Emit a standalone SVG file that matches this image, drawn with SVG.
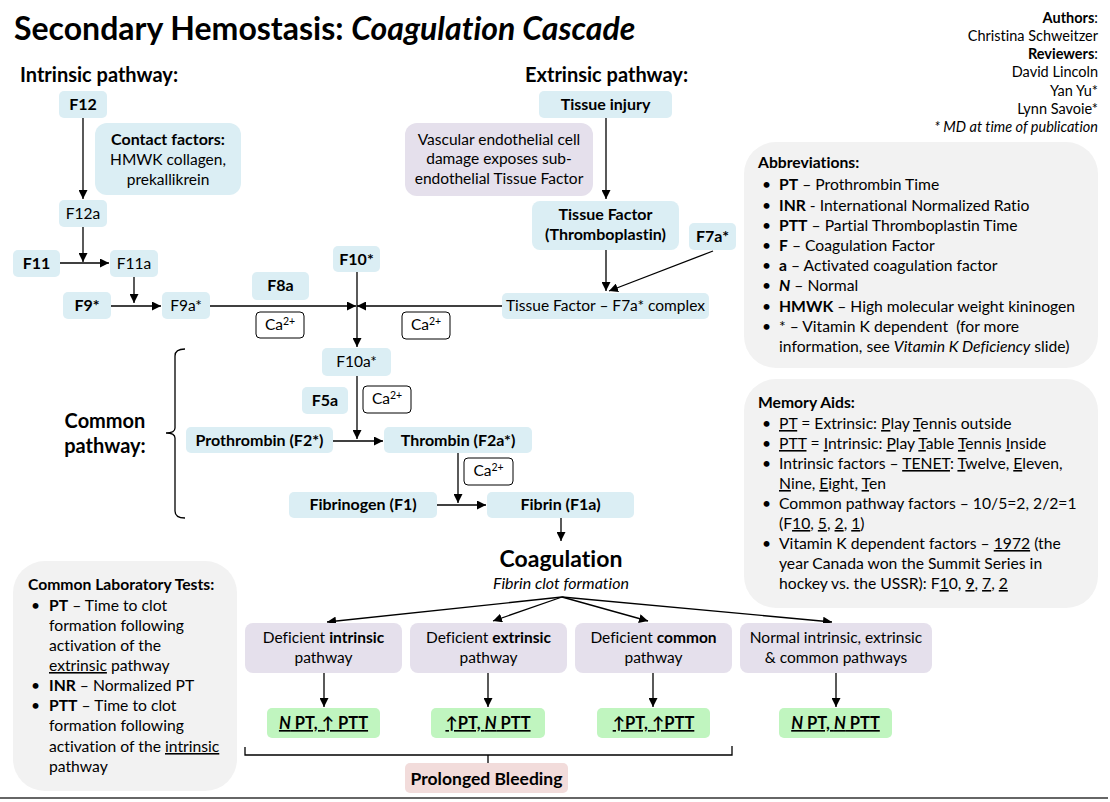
<svg xmlns="http://www.w3.org/2000/svg" width="1110" height="802" viewBox="0 0 1110 802">
<defs>
<marker id="ah" viewBox="0 0 10 10" refX="10" refY="5" markerWidth="9" markerHeight="9" markerUnits="userSpaceOnUse" orient="auto">
<path d="M0,0 L10,5 L0,10 z" fill="#000"/>
</marker>
<style>
text{font-family:Lato,"Liberation Sans",sans-serif;font-size:15.5px;fill:#000;font-variant-ligatures:none}
.b{font-weight:bold}
.nb{font-weight:bold;font-size:16px}
.i{font-style:italic}
.u{text-decoration:underline}
.c{text-anchor:middle}
.r{text-anchor:end}
.au{font-size:14.5px}
.p{font-size:15.7px}
.blue{fill:#dbeef4}
.lav{fill:#e5e0ec}
.grn{fill:#c0f5bf}
.pink{fill:#f2dcdb}
.grey{fill:#f2f2f2}
.ca{fill:#fff;stroke:#000;stroke-width:1}
.ln{stroke:#000;stroke-width:1.3;fill:none}
.ar{stroke:#000;stroke-width:1.3;fill:none;marker-end:url(#ah)}
.h{font-size:20px;font-weight:bold}
.sup{font-size:10.5px}
.res{font-size:16.5px;font-weight:bold;text-decoration:underline}
</style>
</defs>
<rect width="1110" height="802" fill="#fff"/>

<!-- Title and authors -->
<g id="title">
<text x="14" y="40" class="b" style="font-size:32px">Secondary Hemostasis: <tspan class="i">Coagulation Cascade</tspan></text>
</g>
<g id="authors">
<text x="1098" y="23" class="r au"><tspan class="b">Authors</tspan>:</text>
<text x="1098" y="41" class="r au">Christina Schweitzer</text>
<text x="1098" y="59" class="r au"><tspan class="b">Reviewers</tspan>:</text>
<text x="1098" y="77" class="r au">David Lincoln</text>
<text x="1098" y="96" class="r au">Yan Yu*</text>
<text x="1098" y="114" class="r au">Lynn Savoie*</text>
<text x="1098" y="132" class="r i au">* MD at time of publication</text>
</g>

<g id="label-intrinsic"><text x="20" y="82" class="h">Intrinsic pathway:</text></g>
<g id="label-extrinsic"><text x="525" y="82" class="h">Extrinsic pathway:</text></g>
<g id="label-common"><text x="105" y="428" class="h c">Common</text><text x="105" y="453" class="h c">pathway:</text></g>

<!-- Connectors -->
<g id="connectors">
<path class="ar" d="M83,118 V199"/>
<path class="ar" d="M83,227 V262"/>
<path class="ar" d="M60,263 H109"/>
<path class="ar" d="M134,277 V303"/>
<path class="ar" d="M111,306 H161"/>
<path class="ar" d="M210,306 H356"/>
<path class="ar" d="M502,306 H357"/>
<path class="ar" d="M357,272 V347"/>
<path class="ar" d="M606,118 V199"/>
<path class="ar" d="M606,250 V291"/>
<path class="ar" d="M713,251 L609,291"/>
<path class="ar" d="M357,376 V439"/>
<path class="ar" d="M333,441 H383"/>
<path class="ar" d="M458,453 V503"/>
<path class="ar" d="M437,505 H486"/>
<path class="ar" d="M561,518 V541"/>
<path class="ar" d="M562,597 L327,622"/>
<path class="ar" d="M562,597 L493,621"/>
<path class="ar" d="M562,597 L648,621"/>
<path class="ar" d="M562,597 L832,622"/>
<path class="ar" d="M324,673 V707"/>
<path class="ar" d="M488,673 V707"/>
<path class="ar" d="M653,673 V707"/>
<path class="ar" d="M836,673 V707"/>
<path class="ln" d="M185,349 Q175,349 175,356 V428 Q175,433 166,433 Q175,433 175,438 V511 Q175,518 185,518"/>
<path class="ln" d="M245,747 V755 H732 V746 M488,755 V763"/>
</g>

<!-- Intrinsic nodes -->
<g id="F12"><rect class="blue" x="59" y="91" width="48" height="27" rx="5"/><text x="83" y="110" class="nb c">F12</text></g>
<g id="contact"><rect class="blue" x="95" y="123" width="146" height="72" rx="12"/>
<text x="168" y="145" class="nb c">Contact factors:</text>
<text x="168" y="165" class="c">HMWK collagen,</text>
<text x="168" y="185" class="c">prekallikrein</text></g>
<g id="F12a"><rect class="blue" x="59" y="200" width="48" height="27" rx="5"/><text x="83" y="219" class="c">F12a</text></g>
<g id="F11"><rect class="blue" x="13" y="250" width="47" height="27" rx="5"/><text x="36.5" y="269" class="nb c">F11</text></g>
<g id="F11a"><rect class="blue" x="110" y="250" width="48" height="27" rx="5"/><text x="134" y="269" class="c">F11a</text></g>
<g id="F9"><rect class="blue" x="63" y="292" width="48" height="27" rx="5"/><text x="87" y="311" class="nb c">F9*</text></g>
<g id="F9a"><rect class="blue" x="162" y="292" width="48" height="27" rx="5"/><text x="186" y="311" class="c">F9a*</text></g>
<g id="F8a"><rect class="blue" x="252" y="272" width="57" height="28" rx="5"/><text x="280.5" y="291" class="nb c">F8a</text></g>
<g id="ca1"><rect class="ca" x="256" y="312" width="48" height="26" rx="4"/><text x="280" y="330" class="c">Ca<tspan class="sup" dy="-5">2+</tspan></text></g>
<g id="F10"><rect class="blue" x="333" y="246" width="47" height="26" rx="5"/><text x="356.5" y="265" class="nb c">F10*</text></g>
<g id="ca2"><rect class="ca" x="402" y="312" width="48" height="27" rx="4"/><text x="426" y="330" class="c">Ca<tspan class="sup" dy="-5">2+</tspan></text></g>

<!-- Extrinsic nodes -->
<g id="tissue-injury"><rect class="blue" x="539" y="91" width="133" height="27" rx="5"/><text x="605.5" y="110" class="nb c">Tissue injury</text></g>
<g id="vascular"><rect class="lav" x="405" y="123" width="188" height="73" rx="12"/>
<text x="499" y="145" class="c">Vascular endothelial cell</text>
<text x="499" y="164" class="c">damage exposes sub-</text>
<text x="499" y="184" class="c">endothelial Tissue Factor</text></g>
<g id="tissue-factor"><rect class="blue" x="532" y="201" width="147" height="49" rx="8"/>
<text x="605.5" y="220" class="nb c">Tissue Factor</text>
<text x="605.5" y="240" class="nb c">(Thromboplastin)</text></g>
<g id="F7a"><rect class="blue" x="689" y="223" width="47" height="27" rx="5"/><text x="712.5" y="242" class="nb c">F7a*</text></g>
<g id="tf-complex"><rect class="blue" x="502" y="293" width="207" height="26" rx="5"/><text x="605.5" y="311" class="c">Tissue Factor – F7a* complex</text></g>

<!-- Common pathway nodes -->
<g id="F10a"><rect class="blue" x="322" y="348" width="69" height="28" rx="5"/><text x="356.5" y="367" class="c">F10a*</text></g>
<g id="F5a"><rect class="blue" x="302" y="387" width="46" height="27" rx="5"/><text x="325" y="406" class="nb c">F5a</text></g>
<g id="ca3"><rect class="ca" x="363" y="386" width="48" height="27" rx="4"/><text x="387" y="404" class="c">Ca<tspan class="sup" dy="-5">2+</tspan></text></g>
<g id="prothrombin"><rect class="blue" x="186" y="427" width="147" height="26" rx="5"/><text x="259.5" y="446" class="nb c">Prothrombin (F2*)</text></g>
<g id="thrombin"><rect class="blue" x="384" y="427" width="148" height="26" rx="5"/><text x="458" y="446" class="nb c">Thrombin (F2a*)</text></g>
<g id="ca4"><rect class="ca" x="464" y="458" width="49" height="27" rx="4"/><text x="488.5" y="476" class="c">Ca<tspan class="sup" dy="-5">2+</tspan></text></g>
<g id="fibrinogen"><rect class="blue" x="289" y="492" width="148" height="26" rx="5"/><text x="363" y="510" class="nb c">Fibrinogen (F1)</text></g>
<g id="fibrin"><rect class="blue" x="487" y="492" width="147" height="26" rx="5"/><text x="560.5" y="510" class="nb c">Fibrin (F1a)</text></g>

<g id="coagulation">
<text x="561" y="567" class="c b" style="font-size:23px">Coagulation</text>
<text x="561" y="589" class="c i" style="font-size:16px">Fibrin clot formation</text>
</g>

<!-- Outcome boxes -->
<g id="def-intrinsic"><rect class="lav" x="245" y="623" width="157" height="50" rx="8"/>
<text x="323.5" y="643" class="c">Deficient <tspan class="b">intrinsic</tspan></text>
<text x="323.5" y="663" class="c">pathway</text></g>
<g id="def-extrinsic"><rect class="lav" x="410" y="623" width="157" height="50" rx="8"/>
<text x="488.5" y="643" class="c">Deficient <tspan class="b">extrinsic</tspan></text>
<text x="488.5" y="663" class="c">pathway</text></g>
<g id="def-common"><rect class="lav" x="575" y="623" width="157" height="50" rx="8"/>
<text x="653.5" y="643" class="c">Deficient <tspan class="b">common</tspan></text>
<text x="653.5" y="663" class="c">pathway</text></g>
<g id="normal"><rect class="lav" x="740" y="623" width="192" height="50" rx="8"/>
<text x="836" y="643" class="c">Normal intrinsic, extrinsic</text>
<text x="836" y="663" class="c">&amp; common pathways</text></g>

<g id="res-intrinsic"><rect class="grn" x="267" y="708" width="113" height="30" rx="5"/>
<text x="323.5" y="729" class="c res"><tspan class="i">N</tspan> PT, ↑ PTT</text></g>
<g id="res-extrinsic"><rect class="grn" x="431" y="708" width="114" height="30" rx="5"/>
<text x="488" y="729" class="c res">↑PT, <tspan class="i">N</tspan> PTT</text></g>
<g id="res-common"><rect class="grn" x="597" y="708" width="113" height="30" rx="5"/>
<text x="653.5" y="729" class="c res">↑PT, ↑PTT</text></g>
<g id="res-normal"><rect class="grn" x="779" y="708" width="113" height="30" rx="5"/>
<text x="835.5" y="729" class="c res"><tspan class="i">N</tspan> PT, <tspan class="i">N</tspan> PTT</text></g>

<g id="bleeding"><rect class="pink" x="405" y="763" width="163" height="30" rx="5"/>
<text x="486.5" y="785" class="c b" style="font-size:17.5px">Prolonged Bleeding</text></g>

<!-- Side panels -->
<g id="lab-tests"><rect class="grey" x="13" y="561" width="224" height="230" rx="32"/>
<text x="28" y="590" class="b p">Common Laboratory Tests:</text>
<text x="31" y="611" class="p">•</text><text x="49" y="611" class="p"><tspan class="b">PT</tspan> – Time to clot</text>
<text x="49" y="631" class="p">formation following</text>
<text x="49" y="651" class="p">activation of the</text>
<text x="49" y="671" class="p"><tspan class="u">extrinsic</tspan> pathway</text>
<text x="31" y="691" class="p">•</text><text x="49" y="691" class="p"><tspan class="b">INR</tspan> – Normalized PT</text>
<text x="31" y="711" class="p">•</text><text x="49" y="711" class="p"><tspan class="b">PTT</tspan> – Time to clot</text>
<text x="49" y="731" class="p">formation following</text>
<text x="49" y="752" class="p">activation of the <tspan class="u">intrinsic</tspan></text>
<text x="49" y="772" class="p">pathway</text>
</g>

<g id="abbreviations"><rect class="grey" x="744" y="142" width="354" height="226" rx="32"/>
<text x="758" y="168" class="b p">Abbreviations:</text>
<text x="762" y="190" class="p">•</text><text x="779" y="190" class="p"><tspan class="b">PT</tspan> – Prothrombin Time</text>
<text x="762" y="211" class="p">•</text><text x="779" y="211" class="p"><tspan class="b">INR</tspan> - International Normalized Ratio</text>
<text x="762" y="231" class="p">•</text><text x="779" y="231" class="p"><tspan class="b">PTT</tspan> – Partial Thromboplastin Time</text>
<text x="762" y="251" class="p">•</text><text x="779" y="251" class="p"><tspan class="b">F</tspan> – Coagulation Factor</text>
<text x="762" y="271" class="p">•</text><text x="779" y="271" class="p"><tspan class="b">a</tspan> – Activated coagulation factor</text>
<text x="762" y="291" class="p">•</text><text x="779" y="291" class="p"><tspan class="b i">N</tspan> – Normal</text>
<text x="762" y="312" class="p">•</text><text x="779" y="312" class="p"><tspan class="b">HMWK</tspan> – High molecular weight kininogen</text>
<text x="762" y="332" class="p">•</text><text x="779" y="332" class="p" xml:space="preserve">* – Vitamin K dependent  (for more</text>
<text x="779" y="352" class="p">information, see <tspan class="i">Vitamin K Deficiency</tspan> slide)</text>
</g>

<g id="memory-aids"><rect class="grey" x="744" y="379" width="354" height="229" rx="32"/>
<text x="758" y="408" class="b p">Memory Aids:</text>
<text x="762" y="429" class="p">•</text><text x="779" y="429" class="p"><tspan class="u">PT</tspan> = Extrinsic: <tspan class="u">P</tspan>lay <tspan class="u">T</tspan>ennis outside</text>
<text x="762" y="449" class="p">•</text><text x="779" y="449" class="p"><tspan class="u">PTT</tspan> = <tspan class="u">I</tspan>ntrinsic: <tspan class="u">P</tspan>lay <tspan class="u">T</tspan>able <tspan class="u">T</tspan>ennis <tspan class="u">I</tspan>nside</text>
<text x="762" y="469" class="p">•</text><text x="779" y="469" class="p">Intrinsic factors – <tspan class="u">TENET</tspan>: <tspan class="u">T</tspan>welve, <tspan class="u">E</tspan>leven,</text>
<text x="779" y="489" class="p"><tspan class="u">N</tspan>ine, <tspan class="u">E</tspan>ight, <tspan class="u">T</tspan>en</text>
<text x="762" y="509" class="p">•</text><text x="779" y="509" class="p">Common pathway factors – 10/5=2, 2/2=1</text>
<text x="779" y="529" class="p">(F<tspan class="u">10</tspan>, <tspan class="u">5</tspan>, <tspan class="u">2</tspan>, <tspan class="u">1</tspan>)</text>
<text x="762" y="549" class="p">•</text><text x="779" y="549" class="p">Vitamin K dependent factors – <tspan class="u">1972</tspan> (the</text>
<text x="779" y="569" class="p">year Canada won the Summit Series in</text>
<text x="779" y="589" class="p">hockey vs. the USSR): F<tspan class="u">1</tspan>0, <tspan class="u">9</tspan>, <tspan class="u">7</tspan>, <tspan class="u">2</tspan></text>
</g>

<g id="footer-line"><line x1="0" y1="798" x2="1108" y2="798" stroke="#333" stroke-width="1.5"/></g>
</svg>
